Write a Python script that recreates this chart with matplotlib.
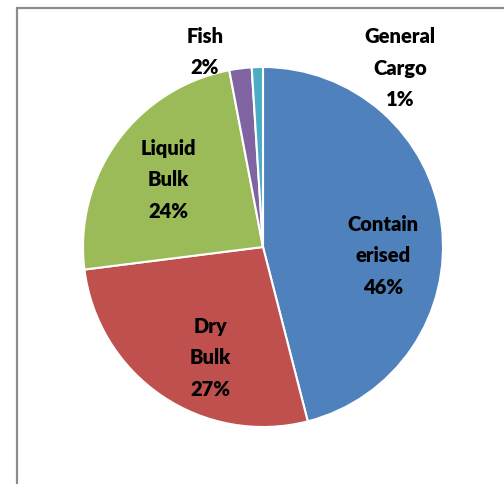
import matplotlib
matplotlib.use("Agg")
import matplotlib.pyplot as plt
from matplotlib.patches import Rectangle

categories = ["Containerised", "Dry Bulk", "Liquid Bulk", "Fish", "General Cargo"]
values = [46, 27, 24, 2, 1]
label_texts = ["Contain\nerised\n46%", "Dry\nBulk\n27%", "Liquid\nBulk\n24%", "Fish\n2%", "General\nCargo\n1%"]
colors = ["#4F81BD", "#C0504D", "#9BBB59", "#8064A2", "#4BACC6"]

W, H = 504, 485
fig = plt.figure(figsize=(W / 100, H / 100), dpi=100)
ax = fig.add_axes([0, 0, 1, 1])
ax.set_xlim(0, W)
ax.set_ylim(0, H)
ax.set_aspect("equal")
ax.axis("off")

# frame border (left and top visible)
ax.add_patch(Rectangle((16.5, -20), W + 40, H - 8.5 + 20, fill=False,
                       edgecolor="#8c8c8c", linewidth=1.6))

cx, cy, r = 263, H - 248, 180
ax.pie(values, colors=colors, startangle=90, counterclock=False,
       center=(cx, cy), radius=r, frame=True,
       wedgeprops=dict(edgecolor="white", linewidth=1.5))
ax.set_xlim(0, W)
ax.set_ylim(0, H)
ax.axis("off")

label_pos = [(383, 256), (210, 358), (168, 180), (205, 52), (400, 68)]
for txt, (x, y) in zip(label_texts, label_pos):
    ax.text(x, H - y, txt, ha="center", va="center", fontsize=14.5,
            fontweight="heavy", family="Lato", linespacing=1.8, color="black")

fig.savefig("out.png", dpi=100)
